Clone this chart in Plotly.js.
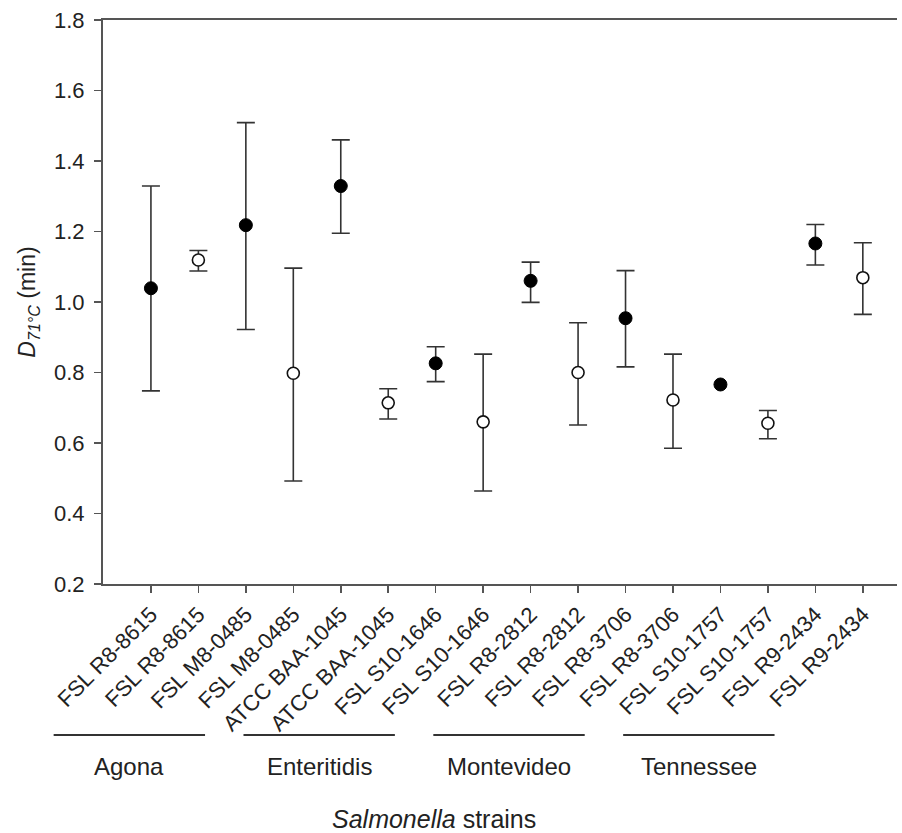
<!DOCTYPE html>
<html>
<head>
<meta charset="utf-8">
<script src="https://cdn.plot.ly/plotly-3.0.1.min.js"></script>
<style>html,body{margin:0;padding:0;background:#fff;}#chart{width:902px;height:833px;}</style>
</head>
<body>
<div id="chart"></div>
<script>
// Strain labels (x categories)
const strains = [
  "FSL R8-8615", "FSL R8-8615", "FSL M8-0485", "FSL M8-0485",
  "ATCC BAA-1045", "ATCC BAA-1045", "FSL S10-1646", "FSL S10-1646",
  "FSL R8-2812", "FSL R8-2812", "FSL R8-3706", "FSL R8-3706",
  "FSL S10-1757", "FSL S10-1757", "FSL R9-2434", "FSL R9-2434"
];
// D71°C means (min)
const dMean = [1.039, 1.119, 1.218, 0.798, 1.329, 0.714, 0.826, 0.660,
               1.060, 0.800, 0.954, 0.722, 0.766, 0.656, 1.166, 1.069];
// Upper / lower error bar ends
const dUpper = [1.329, 1.146, 1.509, 1.096, 1.460, 0.754, 0.873, 0.852,
                1.113, 0.941, 1.089, 0.852, null, 0.692, 1.220, 1.168];
const dLower = [0.748, 1.088, 0.922, 0.492, 1.195, 0.668, 0.774, 0.464,
                0.999, 0.651, 0.816, 0.585, null, 0.612, 1.105, 0.965];
// Marker style per point: true = filled, false = open
const filled = [true, false, true, false, true, false, true, false,
                true, false, true, false, true, false, true, false];
// Serotype groups (span in category positions)
const serotypes = ["Agona", "Enteritidis", "Montevideo", "Tennessee"];
const groupStart = [-2, 2, 6, 10];
const groupEnd = [1, 5, 9, 13];
const yTicks = [0.2, 0.4, 0.6, 0.8, 1.0, 1.2, 1.4, 1.6, 1.8];

const xRange = [-1.01, 15.72];
const yRange = [0.2, 1.8];
const FONT = '"Liberation Sans", Arial, Helvetica, sans-serif';
const AX = '#555';

function buildTrace(isFilled) {
  const x = [], y = [], ep = [], em = [], lab = [];
  strains.forEach((s, i) => {
    if (filled[i] !== isFilled) return;
    x.push(i); y.push(dMean[i]); lab.push(s);
    ep.push(dUpper[i] == null ? NaN : dUpper[i] - dMean[i]);
    em.push(dLower[i] == null ? NaN : dMean[i] - dLower[i]);
  });
  return {
    type: 'scatter', mode: 'markers', x: x, y: y, text: lab,
    name: isFilled ? 'filled' : 'open',
    marker: isFilled
      ? {symbol: 'circle', size: 13, color: '#000', line: {color: '#000', width: 1}}
      : {symbol: 'circle', size: 12, color: '#fff', line: {color: '#111', width: 1.6}},
    error_y: {type: 'data', symmetric: false, array: ep, arrayminus: em,
              color: '#333', thickness: 1.6, width: 9},
    cliponaxis: false,
    showlegend: false
  };
}

const W = 902, H = 833;
const margin = {l: 103, r: 5, t: 20, b: 249};
const plotH = H - margin.t - margin.b;
const toPaperX = v => (v - xRange[0]) / (xRange[1] - xRange[0]);
const pyToPaper = py => (H - margin.b - py) / plotH;

const shapes = [], annotations = [];
serotypes.forEach((g, k) => {
  const x0 = groupStart[k] - 0.05, x1 = groupEnd[k] + 0.14;
  shapes.push({type: 'line', xref: 'paper', yref: 'paper',
    x0: toPaperX(x0), x1: toPaperX(x1), y0: pyToPaper(735), y1: pyToPaper(735),
    line: {color: '#333', width: 2}});
  annotations.push({xref: 'paper', yref: 'paper', x: toPaperX((x0 + x1) / 2),
    y: pyToPaper(766), text: g, showarrow: false, xanchor: 'center', yanchor: 'middle',
    font: {family: FONT, size: 24, color: '#222'}});
});
annotations.push({xref: 'paper', yref: 'paper', x: (434 - margin.l) / (W - margin.l - margin.r),
  y: pyToPaper(819), text: '<i>Salmonella</i> strains', showarrow: false,
  xanchor: 'center', yanchor: 'middle', font: {family: FONT, size: 25, color: '#222'}});

const layout = {
  width: W, height: H, margin: margin,
  paper_bgcolor: '#fff', plot_bgcolor: '#fff',
  font: {family: FONT, color: '#222', size: 22},
  showlegend: false,
  xaxis: {
    range: xRange, tickmode: 'array', tickvals: strains.map((s, i) => i), ticktext: strains,
    tickangle: -45, ticks: 'outside', ticklen: 7, tickwidth: 1.5, tickcolor: AX,
    showline: true, linecolor: AX, linewidth: 2, mirror: true,
    showgrid: false, zeroline: false,
    tickfont: {family: FONT, size: 22, color: '#222'}
  },
  yaxis: {
    range: yRange, tickmode: 'array', tickvals: yTicks, ticktext: yTicks.map(v => v.toFixed(1)),
    ticks: 'outside', ticklen: 7, tickwidth: 1.5, tickcolor: AX, ticklabelstandoff: 5,
    showline: true, linecolor: AX, linewidth: 2, mirror: false,
    showgrid: false, zeroline: false,
    tickfont: {family: FONT, size: 22, color: '#222'},
    title: {text: '<i>D</i><sub><i>71°C</i></sub> (min)', standoff: 12,
            font: {family: FONT, size: 23, color: '#222'}}
  },
  shapes: shapes,
  annotations: annotations
};

Plotly.newPlot('chart', [buildTrace(true), buildTrace(false)], layout,
  {displayModeBar: false, staticPlot: true});
</script>
</body>
</html>
